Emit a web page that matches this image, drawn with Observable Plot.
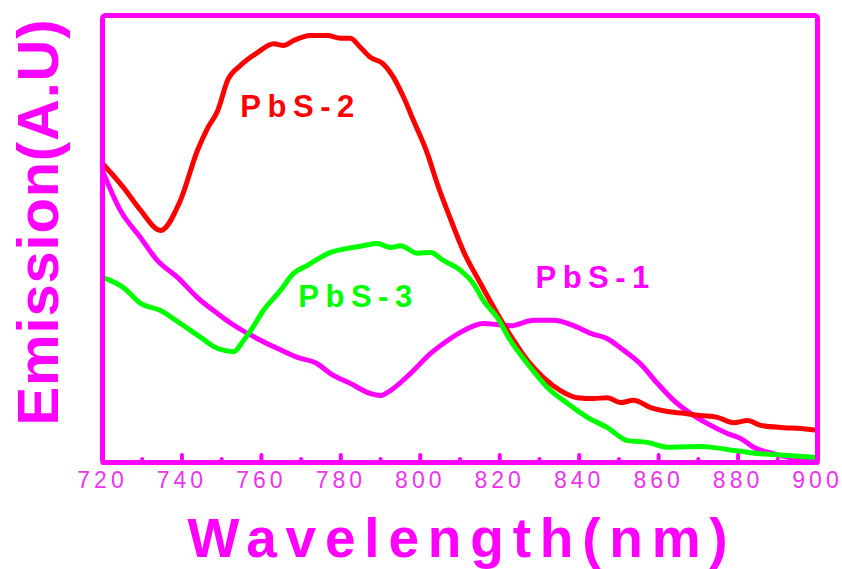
<!DOCTYPE html>
<html><head><meta charset="utf-8">
<script src="https://cdn.jsdelivr.net/npm/d3@7"></script>
<script src="https://cdn.jsdelivr.net/npm/@observablehq/plot@0.6"></script>
<style>
html,body{margin:0;padding:0;background:#fff}
svg{display:block}
</style>
</head><body><div id="chart"></div>
<script>
// PbS-2 (red)
const pbs2Wavelength = [720,725.3,729.6,734.6,739.6,743.9,746.4,749,751.5,754.7,759,763.1,765.6,768.1,772.4,776.6,779.9,782.4,785,787.5,790.5,793.3,795.8,798.3,801.8,804.3,807.6,810.9,815.2,819.4,823.5,827,831,835.3,839.6,843.6,847.1,850.4,853.7,858,862.2,866.3,870.6,874.8,878.9,882.4,885.7,891.5,895.7,900];
const pbs2Emission   = [66.9,61.5,56.4,51.9,58.6,69.8,74.7,78.7,85.5,88.8,91.7,93.7,93.3,94.4,95.5,95.5,94.9,94.9,92.8,90.6,89.3,86.1,81.7,76.5,69.1,62.3,54.5,47.2,40,33.3,27.3,22.8,19,16.1,14.5,14.3,14.5,13.4,13.9,12.3,11.4,11,10.5,10.1,8.9,9.4,8.3,7.8,7.6,7.2];
// PbS-3 (green)
const pbs3Wavelength = [720,725.3,729.6,734.6,739.6,744.7,749,753,755.5,757.3,760.5,764.8,768.1,771.6,777.4,781.7,785.7,789.2,792.5,795,799.3,802.6,805.8,810.1,813.4,815.9,819.4,822.7,827,832,837.1,842.1,847.1,852.2,857.2,862.2,870.6,878.9,883.1,891.5,900];
const pbs3Emission   = [41.4,39.1,35.6,34,31.1,28,25.5,24.8,27.3,29.5,34,38.5,42.3,44.1,47,47.9,48.5,49,48.1,48.5,46.8,47,45.2,43,40,36.2,32.4,27.3,22.1,16.8,13.2,10.1,7.8,4.9,4.5,3.4,3.6,2.7,2.2,1.6,1.1];
// PbS-1 (magenta)
const pbs1Wavelength = [720,724.5,729.6,733.8,738.9,743.9,749,754,759,764.1,769.1,774.1,777.4,782.4,787.5,790,792.5,797.5,802.6,806.9,810.9,815.9,822.7,828.5,833.5,838.6,842.9,847.1,851.2,855.4,859.7,863.8,868,872.3,877.3,880.6,883.9,888.9,894,900];
const pbs1Emission   = [65.3,56.4,50.3,45.2,41.4,36.9,33.3,30.2,27.7,25.5,23.5,22.1,19.9,17.7,15.4,15,16.1,19.9,24.4,27.3,29.5,31.1,30.6,31.8,31.8,30.6,28.9,27.7,25.1,22.1,17.7,13.9,11,8.7,6.5,5.4,3.4,2,0.9,0.4];

const seriesNames  = ["PbS-1", "PbS-2", "PbS-3"];
const seriesColors = ["#ff00ff", "#ff0000", "#00ff00"];
const labelWavelength = [829.0, 754.7, 769.3];
const labelEmission   = [41.2, 79.5, 37.0];

const xTicksLabeled = [720,740,760,780,800,820,840,860,880,900];
const xTicksMinor   = [730,750,770,790,810,830,850,870,890];
const xTitle = "Wavelength(nm)";
const yTitle = "Emission(A.U)";

const rows = [];
[[pbs1Wavelength,pbs1Emission,"PbS-1"],[pbs2Wavelength,pbs2Emission,"PbS-2"],[pbs3Wavelength,pbs3Emission,"PbS-3"]]
  .forEach(([w,e,s]) => w.forEach((x,i) => rows.push({series:s, wavelength:x, emission:e[i]})));
const labels = seriesNames.map((s,i) => ({series:s, wavelength:labelWavelength[i], emission:labelEmission[i]}));

const FONT = "'Liberation Sans', Arial, Helvetica, sans-serif";
const MAG = "#ff00ff";

const chart = Plot.plot({
  width: 842, height: 569,
  marginLeft: 102, marginRight: 25, marginTop: 15, marginBottom: 107,
  style: {fontFamily: FONT, background: "#fff"},
  x: {domain: [720, 900]},
  y: {domain: [0, 100]},
  color: {domain: seriesNames, range: seriesColors},
  marks: [
    Plot.line(rows, {x: "wavelength", y: "emission", z: "series", stroke: "series", strokeWidth: 5, strokeLinejoin: "round", strokeLinecap: "round", curve: "monotone-x"}),
    Plot.text(labels, {x: "wavelength", y: "emission", text: "series", fill: "series", textAnchor: "start", lineAnchor: "middle", fontSize: 31, fontWeight: "bold", ariaDescription: "series-label"}),
    Plot.axisX(xTicksLabeled, {anchor: "top", frameAnchor: "bottom", tickSize: 8, stroke: MAG, strokeWidth: 4, strokeLinecap: "round", fill: "none", label: null}),
    Plot.axisX(xTicksMinor, {anchor: "top", frameAnchor: "bottom", tickSize: 4, stroke: MAG, strokeWidth: 4, strokeLinecap: "round", fill: "none", label: null}),
    Plot.axisX(xTicksLabeled, {anchor: "bottom", tickSize: 0, tickPadding: 9, fontSize: 23, fill: "#ee33ee", label: null, tickFormat: d => String(d), ariaDescription: "x-ticklabels"}),
    Plot.axisY({ticks: [], label: null}),
    Plot.text([xTitle], {frameAnchor: "bottom", textAnchor: "middle", lineAnchor: "middle", dy: 77, dx: 2, fontSize: 55, fontWeight: "bold", fill: MAG, ariaDescription: "x-title"}),
    Plot.text([yTitle], {frameAnchor: "left", textAnchor: "middle", lineAnchor: "middle", rotate: -90, dx: -63, dy: -17, fontSize: 58, fontWeight: "bold", fill: MAG, ariaDescription: "y-title"}),
    Plot.frame({stroke: MAG, strokeWidth: 5, rx: 3})
  ]
});

const sel = d3.select(chart);
sel.selectAll('g[aria-label="x-axis tick label"] text').style("letter-spacing", "4px").style("font-size", "23px");
sel.selectAll('g[aria-description="x-title"] text').style("letter-spacing", "8.8px");
sel.selectAll('g[aria-description="y-title"] text').style("letter-spacing", "0.8px");
sel.selectAll('g[aria-description="series-label"] text').style("letter-spacing", "6.5px");
document.getElementById("chart").appendChild(chart);
</script>
</body></html>
